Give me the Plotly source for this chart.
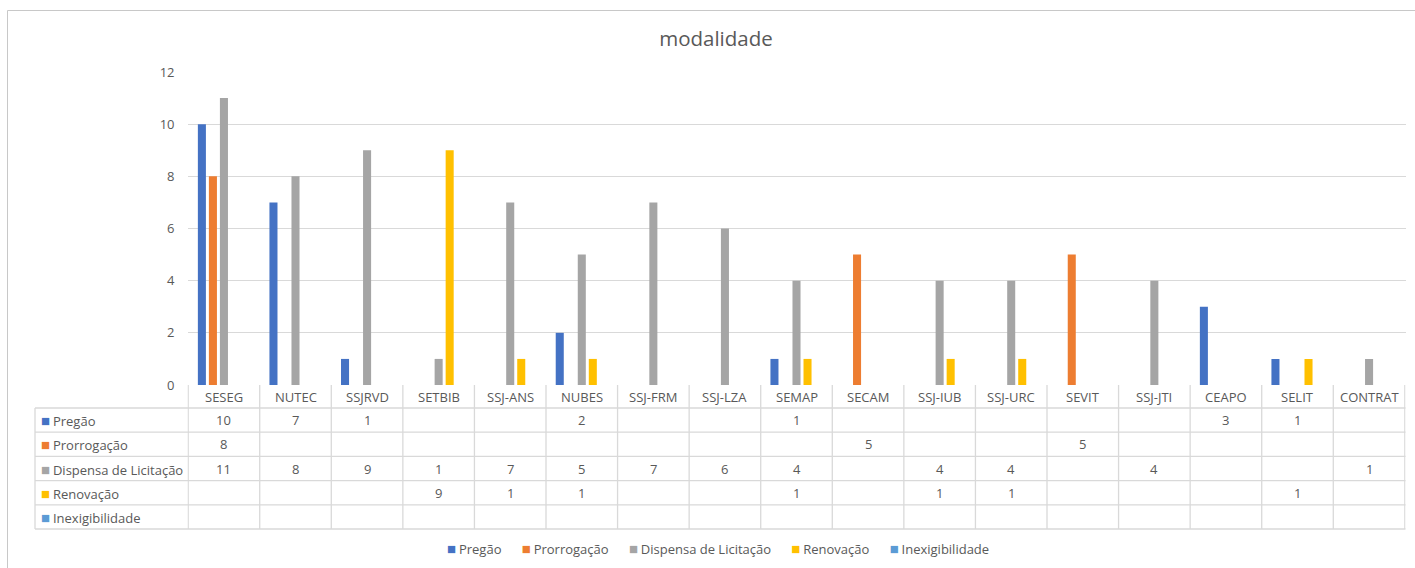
import plotly.graph_objects as go

categories = ["SESEG", "NUTEC", "SSJRVD", "SETBIB", "SSJ-ANS", "NUBES", "SSJ-FRM",
              "SSJ-LZA", "SEMAP", "SECAM", "SSJ-IUB", "SSJ-URC", "SEVIT", "SSJ-JTI",
              "CEAPO", "SELIT", "CONTRAT"]
series_names = ["Pregão", "Prorrogação", "Dispensa de Licitação", "Renovação", "Inexigibilidade"]
pregao =       [10, 7, 1, None, None, 2, None, None, 1, None, None, None, None, None, 3, 1, None]
prorrogacao =  [8, None, None, None, None, None, None, None, None, 5, None, None, 5, None, None, None, None]
dispensa =     [11, 8, 9, 1, 7, 5, 7, 6, 4, None, 4, 4, None, 4, None, None, 1]
renovacao =    [None, None, None, 9, 1, 1, None, None, 1, None, 1, 1, None, None, None, 1, None]
inexig =       [None] * 17
series_values = [pregao, prorrogacao, dispensa, renovacao, inexig]
colors = ["#4472C4", "#ED7D31", "#A5A5A5", "#FFC000", "#5B9BD5"]
y_ticks = [0, 2, 4, 6, 8, 10, 12]
title_text = "modalidade"

W, H = 1415, 568
FONT = "Open Sans"
TXT = "#595959"
GRID = "#D9D9D9"
FS = 13


def fx(p):
    return p / W


def fy(p):
    return 1 - p / H


def swatch(col):
    return f"<span style='color:{col};font-size:15px'>■</span><span style='font-size:11px'>&nbsp;</span>"


plot_left, plot_right = 187.5, 1405.5
plot_top, plot_bottom = 72, 385
label_left = 35
row_edges = [408 + k * 24.2 for k in range(6)]

fig = go.Figure()
for name, vals, col in zip(series_names, series_values, colors):
    fig.add_trace(go.Bar(x=categories, y=vals, name=name, marker_color=col,
                         marker_line_width=0, showlegend=False))

shapes = []
annotations = []

# outer chart border
shapes.append(dict(type="rect", xref="paper", yref="paper", x0=fx(7.5), x1=fx(W + 20),
                   y0=fy(H + 20), y1=fy(10.5), line=dict(color="#C8C8C8", width=1)))

# table horizontal lines
for yy in row_edges:
    shapes.append(dict(type="line", xref="paper", yref="paper", x0=fx(label_left), x1=fx(plot_right),
                       y0=fy(yy), y1=fy(yy), line=dict(color=GRID, width=1.3)))
# table vertical lines at category boundaries
for i in range(len(categories) + 1):
    shapes.append(dict(type="line", xref="x", yref="paper", x0=i - 0.5, x1=i - 0.5,
                       y0=fy(plot_bottom), y1=fy(row_edges[-1]), line=dict(color=GRID, width=1.3)))
shapes.append(dict(type="line", xref="paper", yref="paper", x0=fx(label_left), x1=fx(label_left),
                   y0=fy(row_edges[0]), y1=fy(row_edges[-1]), line=dict(color=GRID, width=1.3)))

# header (category names)
for c in categories:
    annotations.append(dict(x=c, xref="x", y=fy((plot_bottom + row_edges[0]) / 2), yref="paper",
                            text=c, showarrow=False, xanchor="center", yanchor="middle",
                            font=dict(family=FONT, size=FS, color=TXT)))

# row labels and values
for r, (name, vals, col) in enumerate(zip(series_names, series_values, colors)):
    yc = fy((row_edges[r] + row_edges[r + 1]) / 2)
    annotations.append(dict(x=fx(38.5), xref="paper", y=yc, yref="paper",
                            text=swatch(col) + name,
                            showarrow=False, xanchor="left", yanchor="middle",
                            font=dict(family=FONT, size=FS, color=TXT)))
    for c, v in zip(categories, vals):
        if v is None:
            continue
        annotations.append(dict(x=c, xref="x", y=yc, yref="paper", text=str(v), showarrow=False,
                                xanchor="center", yanchor="middle",
                                font=dict(family=FONT, size=FS, color=TXT)))

# legend
legend_parts = [swatch(col) + name for name, col in zip(series_names, colors)]
annotations.append(dict(x=fx(718), xref="paper", y=fy(548), yref="paper",
                        text=("&nbsp;" * 6).join(legend_parts),
                        showarrow=False, xanchor="center", yanchor="middle",
                        font=dict(family=FONT, size=FS, color=TXT)))

fig.update_layout(
    width=W, height=H, autosize=False,
    margin=dict(l=0, r=0, t=0, b=0, autoexpand=False),
    paper_bgcolor="white", plot_bgcolor="white",
    barmode="group", bargap=0.23, bargroupgap=0.27,
    title=dict(text=title_text, x=fx(716), xanchor="center", y=fy(39), yanchor="middle",
               font=dict(family=FONT, size=20.5, color=TXT)),
    xaxis=dict(domain=[fx(plot_left), fx(plot_right)], showticklabels=False, showline=False,
               showgrid=False, zeroline=False, ticks="", automargin=False),
    yaxis=dict(domain=[fy(plot_bottom), fy(plot_top)], range=[0, 12], tickvals=y_ticks,
               showline=False, showgrid=True, gridcolor=GRID, gridwidth=1.3, zeroline=False,
               ticks="", ticklabelstandoff=12, automargin=False,
               tickfont=dict(family=FONT, size=FS, color=TXT)),
    shapes=shapes,
    annotations=annotations,
    showlegend=False,
)

fig.write_html("out.html", config={"displayModeBar": False},
               post_script="document.body.style.margin='0';document.body.style.overflow='hidden';")
